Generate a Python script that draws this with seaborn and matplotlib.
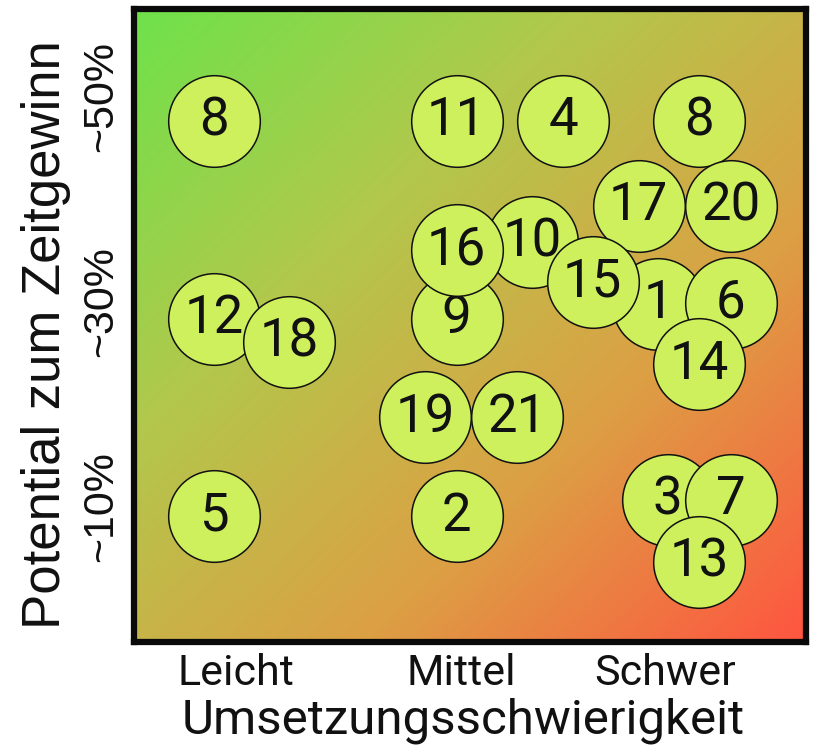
import numpy as np
import pandas as pd
import matplotlib
matplotlib.use("Agg")
import matplotlib.pyplot as plt
from matplotlib.colors import LinearSegmentedColormap
import seaborn as sns

# Measures: id, implementation difficulty (1 = easy .. 3 = hard), time-saving potential in %
ids = [8, 11, 4, 8, 17, 20, 12, 18, 9, 10, 16, 1, 15, 6, 14, 19, 21, 5, 2, 3, 7, 13]
difficulty = [1.0, 2.0, 2.44, 3.0, 2.75, 3.13, 1.0, 1.31, 2.0, 2.31, 2.0, 2.83, 2.56,
              3.13, 3.0, 1.87, 2.25, 1.0, 2.0, 2.87, 3.13, 3.0]
potential = [50, 50, 50, 50, 41.4, 41.4, 30, 27.6, 30, 37.7, 36.9, 31.5, 33.7,
             31.6, 25.4, 20, 20, 10, 10, 11.7, 11.7, 5.4]

x_tick_labels = ["Leicht", "Mittel", "Schwer"]
x_tick_pos = [1.09, 2.02, 2.86]
y_tick_labels = ["~10%", "~30%", "~50%"]
y_tick_pos = [11.0, 31.7, 52.5]

df = pd.DataFrame({"id": ids, "difficulty": difficulty, "potential": potential})

sns.set_theme(style="white")
plt.rcParams["font.family"] = ["Roboto", "DejaVu Sans"]

fig = plt.figure(figsize=(8.14, 7.54), dpi=100)
ax = fig.add_axes([134 / 814, 1 - 642 / 754, 672 / 814, 633 / 754])

xlim = (0.67, 3.44)
ylim = (-2.7, 61.3)

# diagonal green -> red background (top-left green, bottom-right red)
cmap = LinearSegmentedColormap.from_list(
    "bg", ["#6ee24a", "#b2c84c", "#dca044", "#ff5540"])
n = 400
gx, gy = np.meshgrid(np.linspace(0, 1, n), np.linspace(0, 1, n))
grad = (gx + gy) / 2
ax.imshow(grad, cmap=cmap, extent=[xlim[0], xlim[1], ylim[0], ylim[1]],
          origin="upper", aspect="auto", zorder=0, interpolation="bilinear")

# bubbles, each drawn with its number so overlaps stack properly
for i in range(len(df)):
    row = df.iloc[[i]]
    sns.scatterplot(data=row, x="difficulty", y="potential", ax=ax, s=4350,
                    color="#cdf05c", edgecolor="#111111", linewidth=1.1,
                    legend=False, zorder=2 + 2 * i)
    ax.text(df["difficulty"].iloc[i], df["potential"].iloc[i], str(df["id"].iloc[i]),
            ha="center", va="center", fontsize=38, color="#111111",
            zorder=3 + 2 * i)

ax.set_xlim(*xlim)
ax.set_ylim(*ylim)

ax.set_xticks(x_tick_pos)
ax.set_xticklabels(x_tick_labels, fontsize=31)
ax.set_yticks(y_tick_pos)
ax.set_yticklabels(y_tick_labels, fontsize=31, rotation=90, va="center",
                   family=["Liberation Sans", "DejaVu Sans"])
ax.tick_params(axis="both", length=0, colors="#111111")
ax.tick_params(axis="x", pad=8)
ax.tick_params(axis="y", pad=9)

ax.set_xlabel("Umsetzungsschwierigkeit", fontsize=35.5, color="#111111")
ax.set_ylabel("Potential zum Zeitgewinn", fontsize=38, color="#111111",
              family=["Liberation Sans", "DejaVu Sans"])
ax.xaxis.set_label_coords(0.49, -0.087)
ax.yaxis.set_label_coords(-0.094, 0.485)

for sp in ax.spines.values():
    sp.set_visible(True)
    sp.set_color("#0a0a0a")
    sp.set_linewidth(4.5)
    sp.set_zorder(100)

fig.savefig("out.png", dpi=100, facecolor="white")
